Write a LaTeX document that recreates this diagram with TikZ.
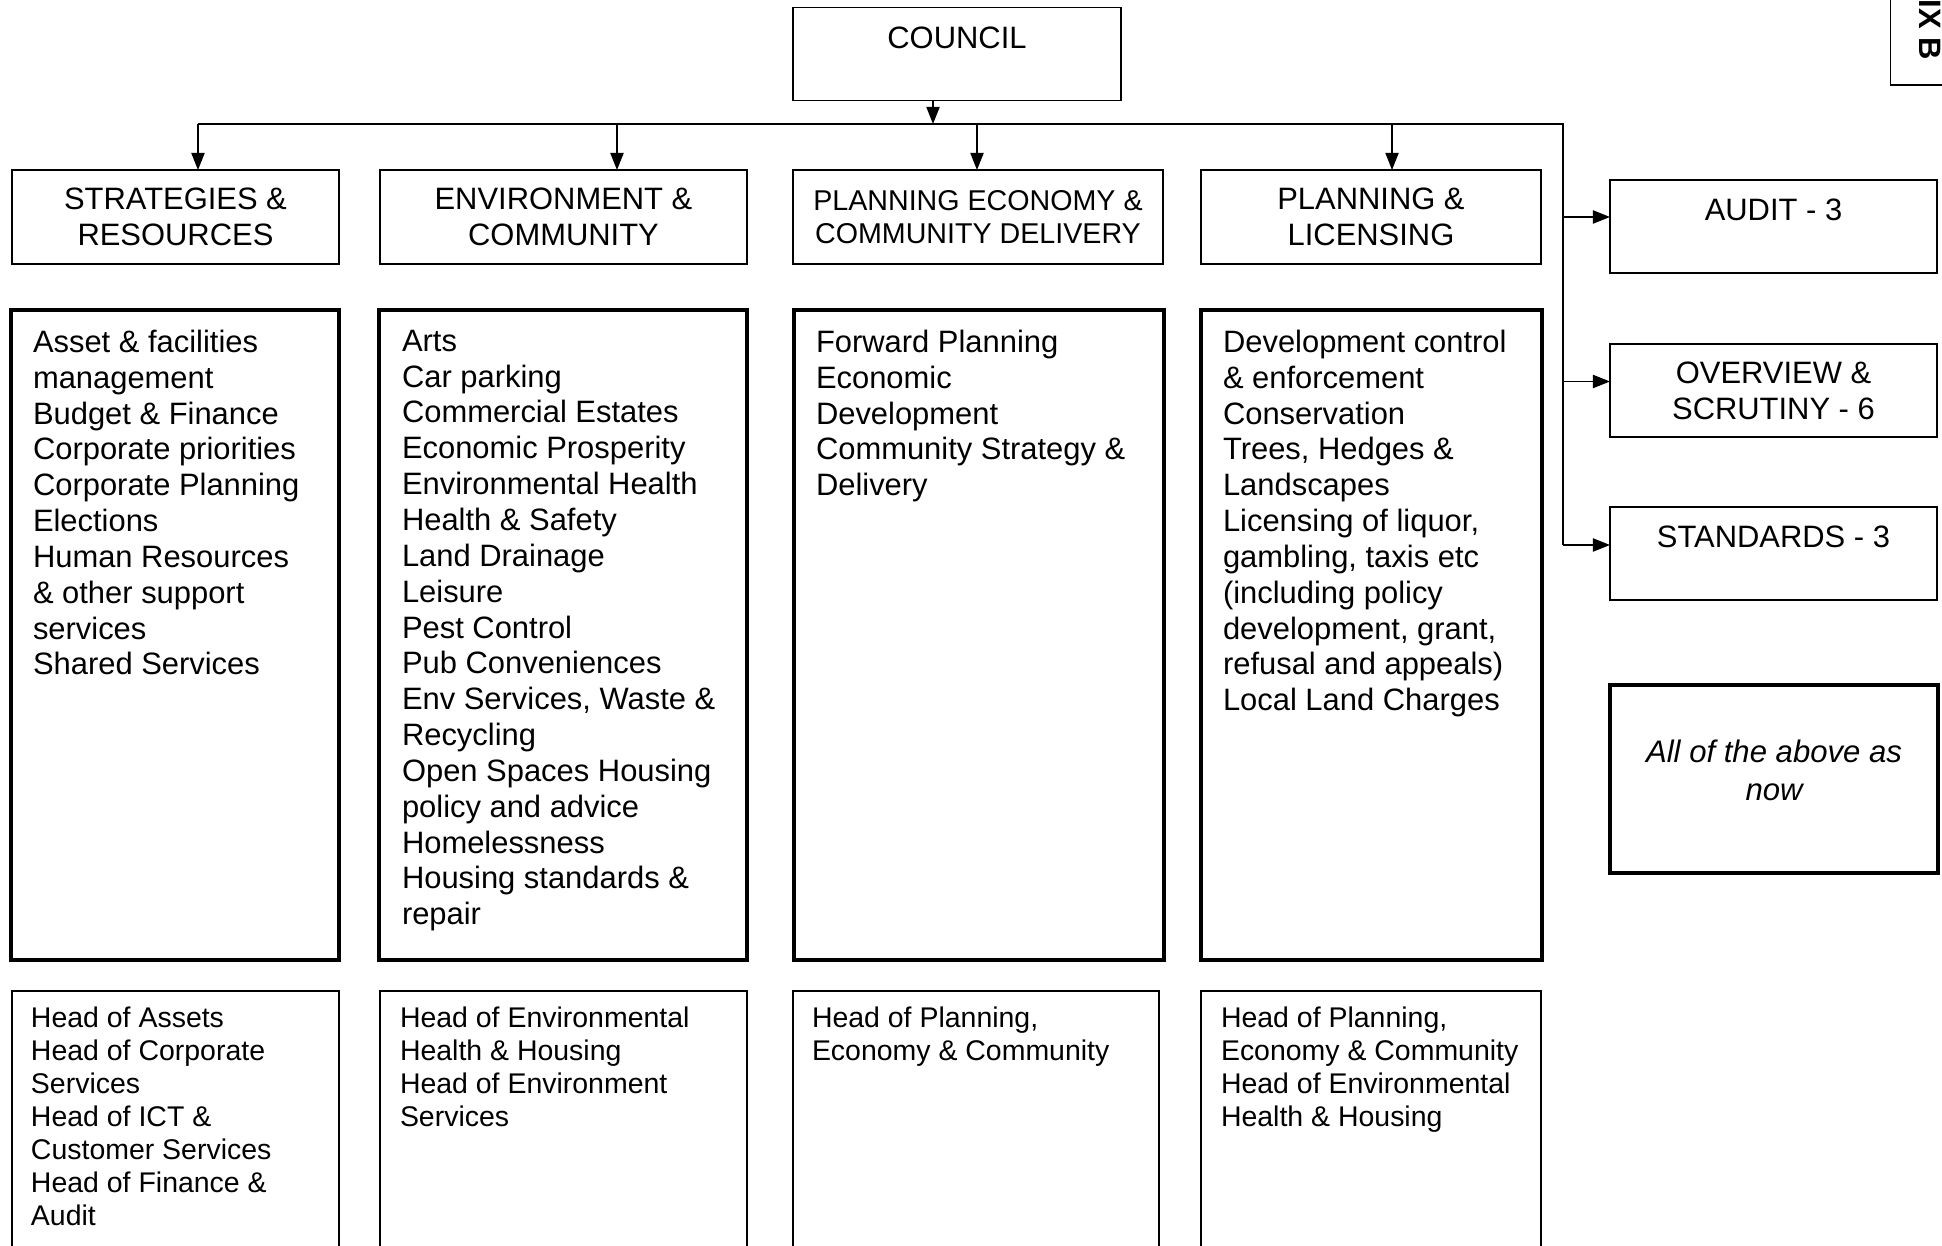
\documentclass[tikz,border=0pt]{standalone}
\usepackage{fontspec}
\setmainfont{Liberation Sans}
\usetikzlibrary{positioning}
\usetikzlibrary{arrows.meta}

\begin{document}
\begin{tikzpicture}[x=0.02cm, y=-0.02cm,
    every node/.style={inner sep=0pt, outer sep=0pt},
    headbox/.style={draw, line width=0.8pt, anchor=north west, minimum height=1.88cm, align=center, font=\fontsize{17.6}{20.4}\selectfont},
    topbox/.style={draw, line width=0.8pt, anchor=north west, minimum width=6.54cm, text height=0.82cm, text depth=1.04cm, font=\fontsize{17.6}{20.4}\selectfont},
    listbox/.style={draw, line width=2.4pt, anchor=north west, minimum height=13cm},
    listtext/.style={anchor=north west, align=left, font=\fontsize{17.6}{20.4}\selectfont},
    headsbox/.style={draw, line width=0.8pt, anchor=north west, minimum height=6cm},
    headstext/.style={anchor=north west, align=left, font=\fontsize{16.2}{18.8}\selectfont},
    arr/.style={-{Triangle[length=9.7pt,width=7.5pt]}, line width=0.8pt},
    wire/.style={line width=0.8pt}]
  \useasboundingbox (0,0) rectangle (1942,1246);

  % Council and committees
  \node[topbox, minimum width=6.56cm] (council) at (793,7.4) {COUNCIL};
  \node[headbox, minimum width=6.54cm] (sr) at (12,170) {STRATEGIES \&\\RESOURCES};
  \node[headbox, minimum width=7.34cm] (ec) at (380,170) {ENVIRONMENT \&\\COMMUNITY};
  \node[headbox, minimum width=7.40cm, font=\fontsize{16.3}{19}\selectfont] (pe) at (793,170) {PLANNING ECONOMY \&\\COMMUNITY DELIVERY};
  \node[headbox, minimum width=6.80cm] (pl) at (1201,170) {PLANNING \&\\LICENSING};

  % Other committees
  \node[topbox] (audit) at (1610,180) {AUDIT - 3};
  \node[headbox, minimum width=6.54cm, minimum height=1.86cm] (scrutiny) at (1610,344) {OVERVIEW \&\\SCRUTINY - 6};
  \node[topbox] (standards) at (1610,507) {STANDARDS - 3};
  \node[listbox, minimum width=6.56cm, minimum height=3.76cm] (asnow) at (1610,685) {};
  \node[align=center, font=\itshape\fontsize{17.7}{21.6}\selectfont] (asnowtext) at (1774,770) {All of the above as\\now};

  \node[draw, line width=0.8pt, rotate=-90, anchor=base east, inner xsep=0.5cm, inner ysep=0.57cm, font=\bfseries\fontsize{17.6}{20.4}\selectfont] (appendix) at (1919,85) {APPENDIX B};

  % Functions
  \node[listbox, minimum width=6.56cm] (srlist) at (11,310) {};
  \node[listtext] (srtext) at ([shift={(22,20)}]srlist.north west) {Asset \& facilities\\management\\Budget \& Finance\\Corporate priorities\\Corporate Planning\\Elections\\Human Resources\\\& other support\\services\\Shared Services};
  \node[listbox, minimum width=7.36cm] (eclist) at (379,310) {};
  \node[listtext] (ectext) at ([shift={(23,20)}]eclist.north west) {Arts\\Car parking\\Commercial Estates\\Economic Prosperity\\Environmental Health\\Health \& Safety\\Land Drainage\\Leisure\\Pest Control\\Pub Conveniences\\Env Services, Waste \&\\Recycling\\Open Spaces Housing\\policy and advice\\Homelessness\\Housing standards \&\\repair};
  \node[listbox, minimum width=7.40cm] (pelist) at (794,310) {};
  \node[listtext] (petext) at ([shift={(22,20)}]pelist.north west) {Forward Planning\\Economic\\Development\\Community Strategy \&\\Delivery};
  \node[listbox, minimum width=6.82cm] (pllist) at (1201,310) {};
  \node[listtext] (pltext) at ([shift={(22,20)}]pllist.north west) {Development control\\\& enforcement\\Conservation\\Trees, Hedges \&\\Landscapes\\Licensing of liquor,\\gambling, taxis etc\\(including policy\\development, grant,\\refusal and appeals)\\Local Land Charges};

  % Heads of service
  \node[headsbox, minimum width=6.54cm] (srheads) at (12,991) {};
  \node[headstext] (srheadstext) at ([shift={(19,16)}]srheads.north west) {Head of Assets\\Head of Corporate\\Services\\Head of ICT \&\\Customer Services\\Head of Finance \&\\Audit};
  \node[headsbox, minimum width=7.34cm] (echeads) at (380,991) {};
  \node[headstext] (echeadstext) at ([shift={(20,16)}]echeads.north west) {Head of Environmental\\Health \& Housing\\Head of Environment\\Services};
  \node[headsbox, minimum width=7.32cm] (peheads) at (793,991) {};
  \node[headstext] (peheadstext) at ([shift={(19,16)}]peheads.north west) {Head of Planning,\\Economy \& Community};
  \node[headsbox, minimum width=6.80cm] (plheads) at (1201,991) {};
  \node[headstext] (plheadstext) at ([shift={(20,16)}]plheads.north west) {Head of Planning,\\Economy \& Community\\Head of Environmental\\Health \& Housing};

  % Connectors
  \coordinate (drop) at (933,124);
  \coordinate (dsr) at (198,124);
  \coordinate (dec) at (617,124);
  \coordinate (dpe) at (977,124);
  \coordinate (dpl) at (1392,124);
  \coordinate (corner) at (1563,124);
  \coordinate (baudit) at (1563,217);
  \coordinate (bscrutiny) at (1563,381.5);
  \coordinate (bstandards) at (1563,545);

  \draw[arr] (drop |- council.south) -- (drop);
  \draw[wire] (dsr) -- (corner) -- (bstandards);
  \foreach \d/\n in {dsr/sr, dec/ec, dpe/pe, dpl/pl}
    \draw[arr] (\d) -- (\d |- \n.north);
  \foreach \b/\n in {baudit/audit, bscrutiny/scrutiny, bstandards/standards}
    \draw[arr] (\b) -- (\b -| \n.west);
\end{tikzpicture}
\end{document}
